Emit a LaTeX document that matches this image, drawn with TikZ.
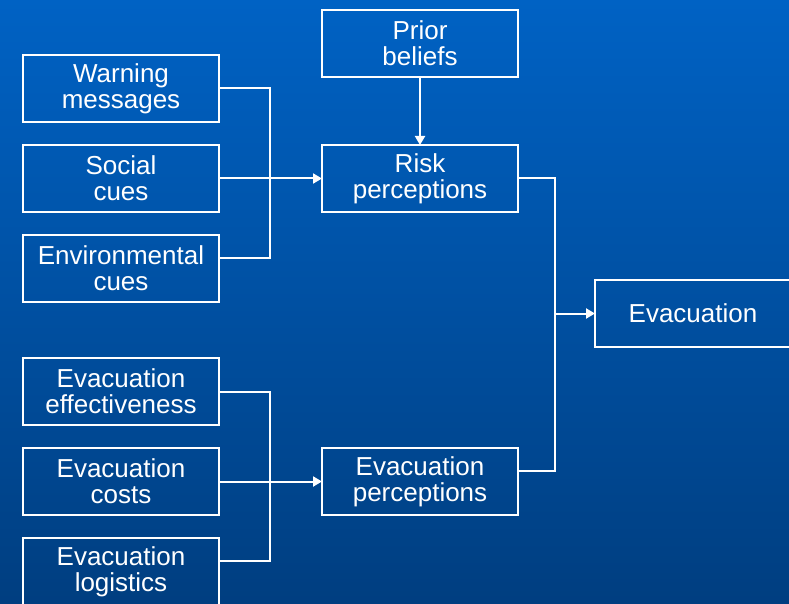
\documentclass[tikz,border=0pt]{standalone}
\usepackage{fontspec}
\setmainfont{Liberation Sans}
\usetikzlibrary{positioning,arrows.meta}

\definecolor{bgtop}{RGB}{0,98,196}
\definecolor{bgbottom}{RGB}{0,62,128}

\begin{document}
\begin{tikzpicture}[x=1pt,y=-1pt,
	box/.style={draw=white,line width=2pt,minimum width=196pt,minimum height=67pt,inner sep=0pt,outer sep=0pt,text=white,align=center,font=\fontsize{26}{26}\selectfont},
	wire/.style={draw=white,line width=2pt},
	>={Triangle[length=9pt,width=10pt]}]
		\shade[top color=bgtop,bottom color=bgbottom] (0,0) rectangle (789,604);
		\useasboundingbox (0,0) rectangle (789,604);
		\node[box] (warning) at (121,88.5) {Warning\\messages};
		\node[box] (social) [below=23pt of warning] {Social\\cues};
		\node[box] (environ) [below=23pt of social] {Environmental\\cues};
		\node[box] (effective) [below=56pt of environ] {Evacuation\\effectiveness};
		\node[box] (costs) [below=23pt of effective] {Evacuation\\costs};
		\node[box] (logistics) [below=23pt of costs] {Evacuation\\logistics};
		\node[box] (risk) [right=103pt of social] {Risk\\perceptions};
		\node[box] (prior) [above=68pt of risk] {Prior\\beliefs};
		\node[box] (evacperc) [right=103pt of costs] {Evacuation\\perceptions};
		\node[box] (evacuation) at (693,313.5) {Evacuation};
		\coordinate (joinleft) at (270,0);
		\coordinate (joinright) at (555,0);
		\coordinate (environend) at ([yshift=11pt]environ.east);
		\coordinate (logisticsend) at ([yshift=11pt]logistics.east);
		\coordinate (evacpercend) at ([yshift=11pt]evacperc.east);
		%\draw[wire] (warning.east) -- (social.east);
		\draw[wire] (warning.east) -| (joinleft |- environend) -- (environend);
		\draw[wire,->] (social.east) -- (risk.west);
		\draw[wire] (effective.east) -| (joinleft |- logisticsend) -- (logisticsend);
		\draw[wire,->] (costs.east) -- (evacperc.west);
		\draw[wire,->] (prior.south) -- (risk.north);
		\draw[wire] (risk.east) -| (joinright |- evacpercend) -- (evacpercend);
		\draw[wire,->] (joinright |- evacuation.west) -- (evacuation.west);
	\end{tikzpicture}
\end{document}
